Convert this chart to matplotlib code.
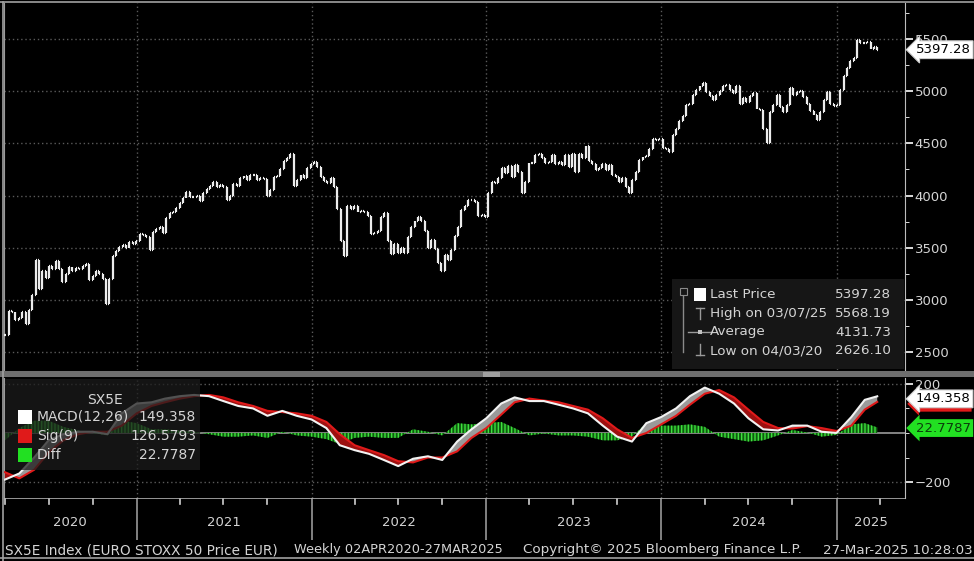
import numpy as np
import pandas as pd
import matplotlib
matplotlib.use("Agg")
import matplotlib.pyplot as plt
import matplotlib.dates as mdates
import matplotlib.transforms as mtrans
from matplotlib.collections import LineCollection
from matplotlib.lines import Line2D
from matplotlib.patches import Rectangle
from matplotlib.ticker import MultipleLocator, FixedLocator

# SX5E weekly closes (Thursdays from 02APR2020), one row per month
c2020 = [2663, 2890, 2880, 2810, 2830,
         2880, 2770, 2905, 3050,
         3380, 3100, 3280, 3210,
         3320, 3300, 3370, 3300, 3175,
         3250, 3315, 3280, 3310,
         3300, 3320, 3340, 3190,
         3230, 3280, 3250, 3200, 2960,
         3200, 3420, 3470, 3510,
         3530, 3500, 3550, 3540, 3560]
c2021 = [3630, 3620, 3600, 3480,
         3650, 3680, 3700, 3640,
         3780, 3830, 3840, 3880,
         3930, 3980, 4030, 3990, 3990,
         4000, 3950, 4020, 4060,
         4090, 4130, 4080, 4100,
         4080, 3960, 4000, 4110, 4090,
         4170, 4190, 4150, 4200,
         4200, 4150, 4170, 4160, 4000,
         4050, 4180, 4190, 4250,
         4330, 4360, 4400, 4090,
         4150, 4200, 4170, 4260, 4300]
c2022 = [4320, 4270, 4180, 4140,
         4120, 4170, 4080, 3870,
         3560, 3420, 3900, 3870, 3900,
         3840, 3850, 3840, 3800,
         3630, 3640, 3660, 3790,
         3830, 3560, 3440, 3540, 3450,
         3500, 3450, 3600, 3700,
         3760, 3790, 3760, 3660,
         3500, 3570, 3490, 3350, 3280,
         3430, 3380, 3480, 3610,
         3700, 3860, 3900, 3960,
         3960, 3940, 3800, 3810, 3790]
c2023 = [4020, 4130, 4120, 4170,
         4260, 4220, 4280, 4180,
         4290, 4230, 4020, 4130, 4310,
         4310, 4390, 4400, 4360,
         4310, 4320, 4390, 4300,
         4320, 4290, 4390, 4270, 4400,
         4230, 4400, 4360, 4470,
         4330, 4300, 4240, 4260, 4300,
         4240, 4290, 4200, 4180,
         4130, 4170, 4080, 4020,
         4150, 4230, 4340, 4370, 4380,
         4450, 4540, 4530, 4540]
c2024 = [4460, 4450, 4420, 4580,
         4640, 4710, 4760, 4870, 4880,
         4960, 5010, 5050, 5080,
         4990, 4950, 4920, 4960,
         5000, 5050, 5060, 5010, 4980,
         5050, 4880, 4930, 4900,
         4950, 4980, 4830, 4820,
         4640, 4500, 4800, 4870, 4960,
         4850, 4800, 4870, 5030,
         4960, 4990, 5000, 4940, 4880,
         4810, 4770, 4720, 4800,
         4920, 4990, 4880, 4860]
c2025 = [4870, 5010, 5150, 5220, 5290,
         5320, 5490, 5460, 5460,
         5470, 5400, 5420, 5397.28]

# MACD(12,26) and Sig(9), read monthly (Apr 2020 .. Mar 2025) plus the last week
macd = [-190, -165, -100, -30, -5, 5, 5, -5, 80,
        120, 125, 140, 150, 155, 150, 130, 110, 100, 70, 90, 70,
        55, 20, -50, -70, -85, -110, -135, -105, -95, -110, -35, 15,
        60, 120, 145, 130, 130, 115, 100, 80, 30, -15, -35, 40,
        65, 100, 150, 185, 160, 120, 60, 15, 10, 30, 30, 5,
        0, 65, 135, 149.358]
sig = [-160, -185, -150, -80, -30, -5, 5, 5, 30,
       80, 110, 125, 140, 150, 155, 145, 125, 110, 90, 85, 80,
       70, 45, -5, -50, -70, -90, -115, -120, -100, -100, -75, -20,
       20, 75, 125, 140, 132, 125, 110, 95, 60, 15, -20, 0,
       35, 70, 115, 160, 175, 145, 95, 45, 20, 18, 28, 20,
       8, 30, 95, 126.5793]

legend_names = ["Last Price", "High on 03/07/25", "Average", "Low on 04/03/20"]
legend_vals = ["5397.28", "5568.19", "4131.73", "2626.10"]
macd_names = ["MACD(12,26)", "Sig(9)", "Diff"]
macd_vals = ["149.358", "126.5793", "22.7787"]
years = [2020, 2021, 2022, 2023, 2024, 2025]
footer = [("SX5E Index (EURO STOXX 50 Price EUR)", 5, 9.8),
          ("Weekly 02APR2020-27MAR2025", 294, 9.3),
          ("Copyright\u00a9 2025 Bloomberg Finance L.P.", 523, 9.7),
          ("27-Mar-2025 10:28:03", 823, 9.6)]

close = np.array(c2020 + c2021 + c2022 + c2023 + c2024 + c2025)
wk = pd.date_range("2020-04-02", periods=len(close), freq="7D")
mdt = list(pd.date_range("2020-04-01", "2025-03-01", freq="MS")) + [pd.Timestamp("2025-03-27")]
macd = np.array(macd)
sig = np.array(sig)
diff = macd - sig

W, H = 974, 561
GREY = "#d4d4d4"
plt.rcParams["font.family"] = ["DejaVu Sans"]
fig = plt.figure(figsize=(W / 100, H / 100), dpi=100, facecolor="black")


def box(l, t, r, b):
    return [l / W, 1 - b / H, (r - l) / W, (b - t) / H]


def fline(x1, y1, x2, y2, **kw):
    fig.add_artist(Line2D([x1 / W, x2 / W], [1 - y1 / H, 1 - y2 / H],
                          transform=fig.transFigure, **kw))


def frect(l, t, r, b, **kw):
    fig.add_artist(Rectangle((l / W, 1 - b / H), (r - l) / W, (b - t) / H,
                             transform=fig.transFigure, **kw))


def ftext(x, y, s, **kw):
    fig.text(x / W, 1 - y / H, s, **kw)


x0, x1 = pd.Timestamp("2020-03-30"), pd.Timestamp("2025-05-24")
ax = fig.add_axes(box(4, 3, 905, 370))
ax2 = fig.add_axes(box(4, 378, 905, 498))
ax3 = fig.add_axes(box(4, 498, 905, 540))
for a in (ax, ax2, ax3):
    a.set_facecolor("black")
    a.set_xlim(x0, x1)
    for s in a.spines.values():
        s.set_visible(False)
    a.set_xticks([])
for a in (ax, ax2):
    a.spines["right"].set_visible(True)
    a.spines["right"].set_color("#bdbdbd")
    a.spines["left"].set_visible(True)
    a.spines["left"].set_color("#9a9a9a")
    a.yaxis.tick_right()
    a.tick_params(axis="y", which="both", direction="out", colors="white",
                  labelcolor=GREY, labelsize=9.5, pad=1)
    a.tick_params(axis="y", which="major", length=6, width=1.2)
    a.tick_params(axis="y", which="minor", length=3)
    for yr in years[1:]:
        a.axvline(pd.Timestamp(f"{yr}-01-01"), color="#5a5a5a", lw=1, ls=(0, (1, 2)), zorder=0)

# ---- price panel
ax.set_ylim(2328, 5845)
ax.yaxis.set_major_locator(MultipleLocator(500))
ax.yaxis.set_minor_locator(MultipleLocator(250))
for lv in range(2500, 6000, 500):
    ax.axhline(lv, color="#5a5a5a", lw=1, ls=(0, (1, 2)), zorder=0)

xs = mdates.date2num(wk)
op = np.r_[close[0], close[:-1]]
segs = []
for xi, oi, ci in zip(xs, op, close):
    segs.append([(xi, oi), (xi, ci)])
    segs.append([(xi - 2.0, oi), (xi, oi)])
    segs.append([(xi, ci), (xi + 2.0, ci)])
ax.add_collection(LineCollection(segs, colors="#ececec", linewidths=1.6, zorder=3))

trp = mtrans.blended_transform_factory(ax.transAxes, ax.transData)
ax.text(1.012, close[-1], legend_vals[0], transform=trp, color="black", fontsize=9.5,
        va="center", ha="left", clip_on=False, zorder=10,
        bbox=dict(boxstyle="larrow,pad=0.18", fc="white", ec="#cfcfcf", lw=0.8))

# price legend box
frect(672, 279, 904, 369, fc="#161616", ec="none", zorder=5)
fline(683, 292, 683, 352, color="#8a8a8a", lw=1, zorder=6)
frect(680, 288, 687, 295, fc="#161616", ec="#8a8a8a", lw=0.8, zorder=7)
frect(694, 288, 706, 301, fc="white", ec="none", zorder=7)
fline(700, 308, 700, 319, color="#9a9a9a", lw=1, zorder=7)
fline(696, 308, 704, 308, color="#9a9a9a", lw=1, zorder=7)
fline(688, 332, 712, 332, color="#9a9a9a", lw=1, zorder=7)
frect(698, 330, 702, 334, fc="#c0c0c0", ec="none", zorder=7)
fline(700, 344, 700, 355, color="#9a9a9a", lw=1, zorder=7)
fline(696, 355, 704, 355, color="#9a9a9a", lw=1, zorder=7)
for k, (nm, vl) in enumerate(zip(legend_names, legend_vals)):
    yy = 295 + k * 18.5
    ftext(710, yy, nm, color=GREY, fontsize=9.7, va="center", ha="left", zorder=8)
    ftext(891, yy, vl, color=GREY, fontsize=9.7, va="center", ha="right", zorder=8)

# ---- MACD panel
ax2.set_ylim(-265, 224)
ax2.yaxis.set_major_locator(FixedLocator([-200, 200]))
ax2.yaxis.set_minor_locator(FixedLocator([-100, 0, 100]))
for lv in (-200, 200):
    ax2.axhline(lv, color="#5a5a5a", lw=1, ls=(0, (1, 2)), zorder=0)
ax2.axhline(0, color="#a8a8a8", lw=1.1, zorder=1)

ax2.fill_between(mdt, 0, diff, facecolor="#0f5a0f", edgecolor="#3ee03e", hatch="|||||",
                 lw=0, zorder=2)
ax2.fill_between(mdt, macd, sig, where=macd >= sig, interpolate=True,
                 color="#9a9a9a", lw=0, zorder=3)
ax2.fill_between(mdt, macd, sig, where=macd < sig, interpolate=True,
                 color="#9c1010", lw=0, zorder=3)
ax2.plot(mdt, sig, color="#e01a1a", lw=1.5, zorder=4)
ax2.plot(mdt, macd, color="#f2f2f2", lw=1.5, zorder=5)

tr2 = mtrans.blended_transform_factory(ax2.transAxes, ax2.transData)
ax2.text(1.012, sig[-1] - 8, macd_vals[1], transform=tr2, color="#e01a1a", fontsize=8,
         va="center", ha="left", clip_on=False, zorder=9,
         bbox=dict(boxstyle="larrow,pad=0.25", fc="#e01a1a", ec="none"))
ax2.text(1.012, 139, macd_vals[0], transform=tr2, color="black", fontsize=9.5,
         va="center", ha="left", clip_on=False, zorder=10,
         bbox=dict(boxstyle="larrow,pad=0.18", fc="white", ec="#cfcfcf", lw=0.8))
ax2.text(1.012, 20, macd_vals[2], transform=tr2, color="#0b3d0b", fontsize=9.5,
         va="center", ha="left", clip_on=False, zorder=10,
         bbox=dict(boxstyle="larrow,pad=0.18", fc="#22e022", ec="none"))

# MACD legend box
frect(5, 379, 200, 470, fc="#1c1c1c", ec="none", alpha=0.75, zorder=5)
ftext(105, 400, "SX5E", color=GREY, fontsize=10, va="center", ha="center", zorder=8)
sq_cols = ["white", "#e01a1a", "#22e022"]
for k, (nm, vl, cc) in enumerate(zip(macd_names, macd_vals, sq_cols)):
    yy = 417 + k * 19
    frect(18, yy - 7, 32, yy + 7, fc=cc, ec="none", zorder=7)
    ftext(37, yy, nm, color=GREY, fontsize=10, va="center", ha="left", zorder=8)
    ftext(196, yy, vl, color=GREY, fontsize=10, va="center", ha="right", zorder=8)

# ---- date strip
ax3.set_ylim(0, 1)
ax3.set_yticks([])
for yr in years[1:]:
    ax3.axvline(pd.Timestamp(f"{yr}-01-01"), color="#8c8c8c", lw=1.3)
for yr in years:
    for mo in (4, 7, 10):
        d = pd.Timestamp(f"{yr}-{mo:02d}-01")
        if x0 < d < x1:
            ax3.plot([d, d], [1, 0.86], color="#d0d0d0", lw=1.2)
    a0 = max(pd.Timestamp(f"{yr}-01-01"), x0)
    a1 = min(pd.Timestamp(f"{yr + 1}-01-01"), x1)
    ax3.text(a0 + (a1 - a0) / 2, 0.42, str(yr), color=GREY, fontsize=9.5,
             ha="center", va="center")
ax3.axhline(1, color="#b0b0b0", lw=1.2)

# ---- frame pieces and footer
frect(0, 371, W, 377, fc="#6e6e6e", ec="none")
frect(483, 371.5, 500, 376.5, fc="#a0a0a0", ec="none")
fline(0, 2, W, 2, color="#a0a0a0", lw=1.2)
fline(3, 2, 3, 561, color="#a0a0a0", lw=1.2)
fline(0, 558, W, 558, color="#a0a0a0", lw=1.2)
for txt, xp, fs in footer:
    ftext(xp, 550, txt, color=GREY, fontsize=fs, va="center", ha="left")

fig.savefig("out.png", dpi=100, facecolor="black")
